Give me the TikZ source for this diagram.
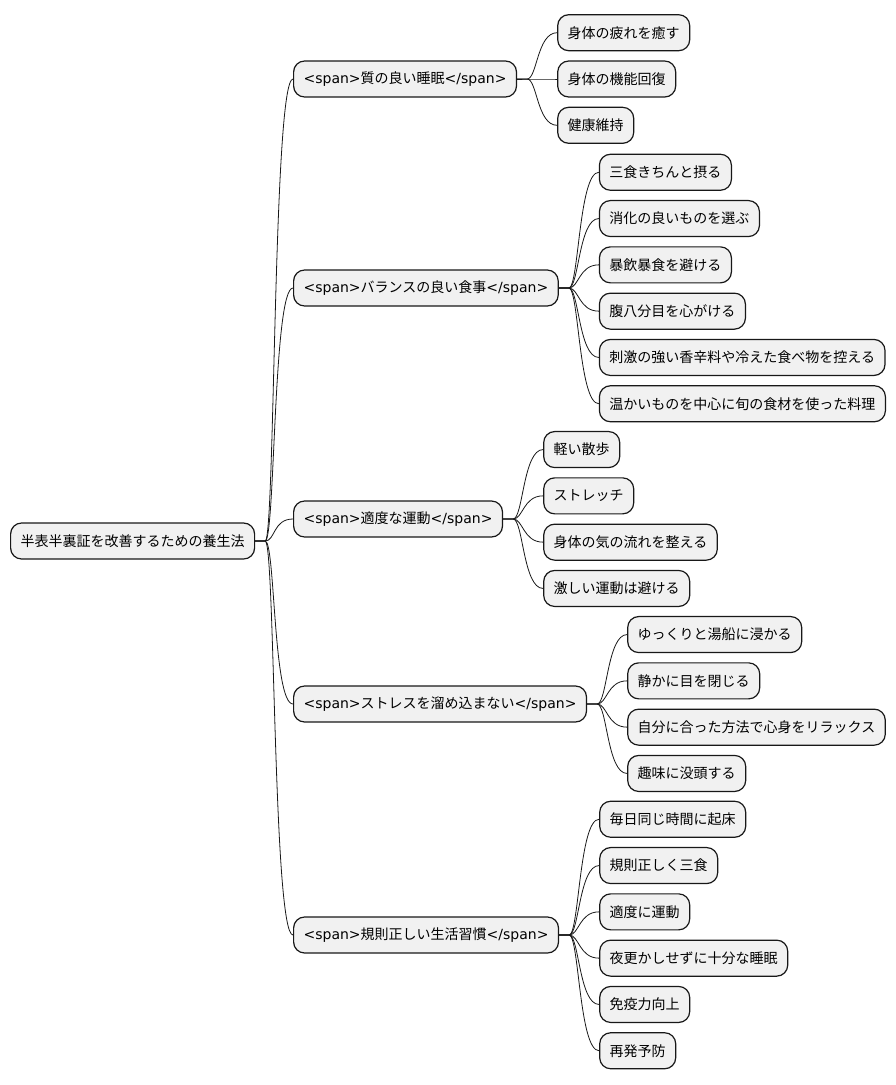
\documentclass[tikz,border=0pt]{standalone}
\usepackage{fontspec}
\setmainfont{Noto Sans CJK JP}
\newfontfamily\latinfont{DejaVu Sans}
\usepackage{tikz}
\usetikzlibrary{calc}

\definecolor{boxfill}{HTML}{F1F1F1}
\definecolor{boxline}{HTML}{181818}

\newcommand{\spanopen}{{\latinfont <span>}}
\newcommand{\spanclose}{{\latinfont </span>}}

\tikzset{
    topic/.style={draw=boxline, fill=boxfill, line width=1.2pt, rounded corners=11pt,
        minimum height=36pt, inner xsep=10pt, anchor=west,
        font=\fontsize{14}{17}\selectfont},
    link/.style={draw=boxline, line width=0.8pt}
}

% children of one branch, spread round the parent
\newcommand{\leafgroup}[3]{%
    \coordinate (#1-hub) at ($(#1.east)+(10,0)$);
    \foreach \t [count=\i] in {#3} {
        \pgfmathsetmacro{\off}{(\i-(#2+1)/2)*46.3}
        \node[topic] (#1-\i) at ($(#1.east)+(40,\off)$) {\t};
        \draw[link] (#1.east) -- (#1-hub) .. controls +(10,0) and +(-20,0) .. (#1-\i.west);
    }
}

\begin{document}
\begin{tikzpicture}[x=1pt,y=-1pt]
    \useasboundingbox (0,0) rectangle (895,1085);

    % Root
    \node[topic] (root) at (10,541) {半表半裏証を改善するための養生法};

    % Main branches
    \node[topic] (sleep) at (293,79) {\spanopen 質の良い睡眠\spanclose};
    \node[topic] (diet) at (293,288) {\spanopen バランスの良い食事\spanclose};
    \node[topic] (move) at (293,519) {\spanopen 適度な運動\spanclose};
    \node[topic] (stress) at (293,704) {\spanopen ストレスを溜め込まない\spanclose};
    \node[topic] (habit) at (293,935) {\spanopen 規則正しい生活習慣\spanclose};

    \coordinate (root-hub) at ($(root.east)+(10,0)$);
    \foreach \b in {sleep,diet,move,stress,habit} {
        \draw[link] (root.east) -- (root-hub) .. controls +(10,0) and +(-20,0) .. (\b.west);
    }

    % Leaves
    \leafgroup{sleep}{3}{身体の疲れを癒す,身体の機能回復,健康維持}
    \leafgroup{diet}{6}{三食きちんと摂る,消化の良いものを選ぶ,暴飲暴食を避ける,腹八分目を心がける,刺激の強い香辛料や冷えた食べ物を控える,温かいものを中心に旬の食材を使った料理}
    \leafgroup{move}{4}{軽い散歩,ストレッチ,身体の気の流れを整える,激しい運動は避ける}
    \leafgroup{stress}{4}{ゆっくりと湯船に浸かる,静かに目を閉じる,自分に合った方法で心身をリラックス,趣味に没頭する}
    \leafgroup{habit}{6}{毎日同じ時間に起床,規則正しく三食,適度に運動,夜更かしせずに十分な睡眠,免疫力向上,再発予防}
\end{tikzpicture}
\end{document}
